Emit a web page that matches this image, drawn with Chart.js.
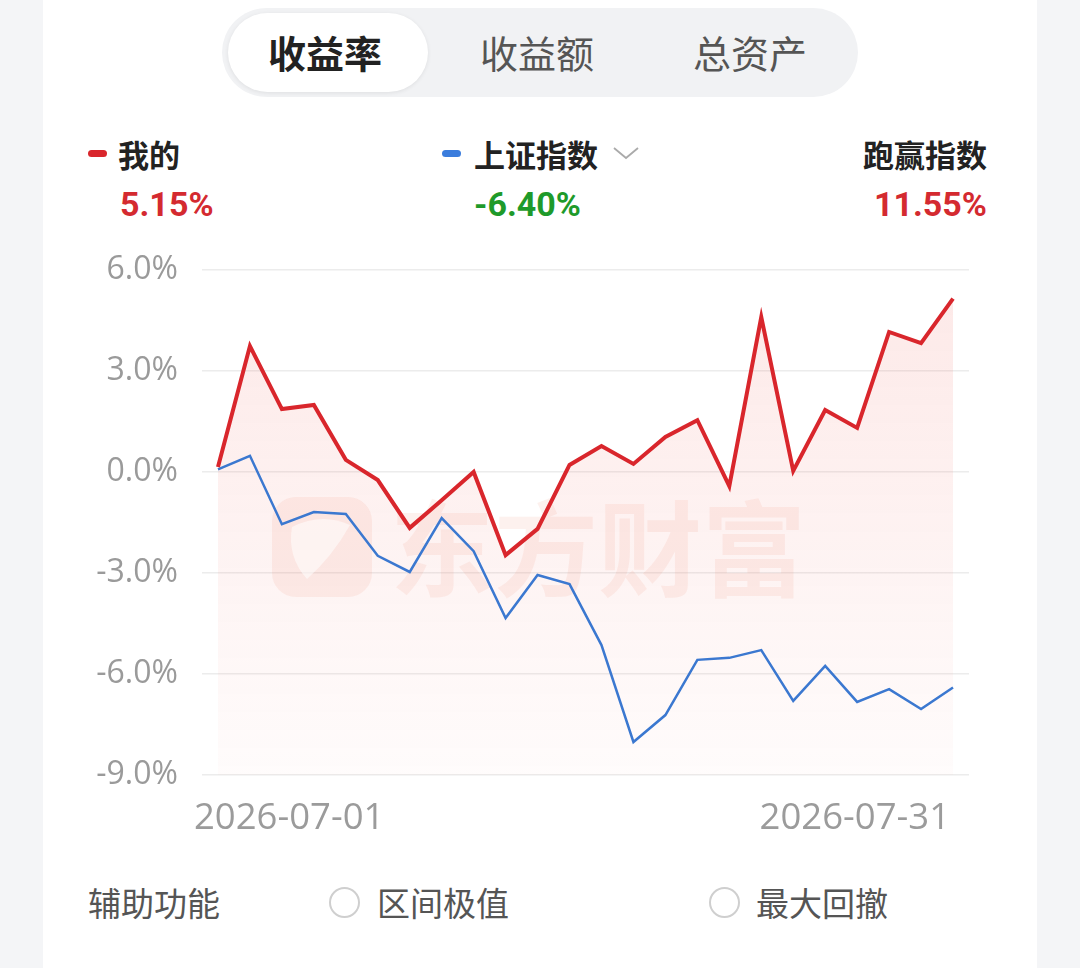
<!DOCTYPE html>
<html><head><meta charset="utf-8">
<script src="https://cdn.jsdelivr.net/npm/chart.js@4.4.1/dist/chart.umd.min.js"></script>
<style>
html,body{margin:0;padding:0;}
body{width:1080px;height:968px;background:#f4f5f7;position:relative;overflow:hidden;font-family:"Noto Sans CJK SC","Noto Sans",sans-serif;}
.card{position:absolute;left:43px;top:0;width:994px;height:968px;background:#fff;}
.abs{position:absolute;white-space:nowrap;transform:translateY(-50%);line-height:1;}
.pill{position:absolute;left:222px;top:8px;width:636px;height:89px;border-radius:45px;background:#f1f2f4;}
.active{position:absolute;left:228px;top:13px;width:200px;height:79px;border-radius:40px;background:#fff;box-shadow:0 1px 4px rgba(0,0,0,0.08);}
.tab{position:absolute;top:52px;transform:translate(-50%,-50%);font-size:38px;color:#555;line-height:1;white-space:nowrap;}
.dash{position:absolute;width:19px;height:7px;border-radius:4px;}
.num{font-family:Roboto,"Noto Sans",sans-serif;font-weight:700;font-size:34px;}
.radio{position:absolute;width:27px;height:27px;border:2px solid #cfcfcf;border-radius:50%;}
#wrap{position:absolute;left:0;top:240px;width:1080px;height:620px;}
</style></head>
<body>
<div class="card"></div>
<div class="pill"></div>
<div class="active"></div>
<div class="tab" style="left:325px;color:#222;font-weight:700;">收益率</div>
<div class="tab" style="left:537px;">收益额</div>
<div class="tab" style="left:750px;">总资产</div>

<div class="dash" style="left:88px;top:150px;background:#d9262c;"></div>
<div class="abs" style="left:118px;top:153px;font-size:31px;font-weight:700;color:#222;">我的</div>
<div class="abs num" style="left:120px;top:204px;color:#d42a30;">5.15%</div>

<div class="dash" style="left:442px;top:150px;background:#3b7ddd;"></div>
<div class="abs" style="left:474px;top:153px;font-size:31px;font-weight:700;color:#222;">上证指数</div>
<svg style="position:absolute;left:612px;top:145px;" width="30" height="16"><polyline points="2,3 14,13 26,3" fill="none" stroke="#aaa" stroke-width="1.8"/></svg>
<div class="abs num" style="left:474px;top:204px;color:#1e9a2a;">-6.40%</div>

<div class="abs" style="right:93px;top:153px;font-size:31px;font-weight:700;color:#222;">跑赢指数</div>
<div class="abs num" style="right:93px;top:204px;color:#d42a30;">11.55%</div>

<div id="wrap"><canvas id="c" width="1080" height="620"></canvas></div>

<div class="abs" style="left:88px;top:902px;font-size:33px;color:#555;">辅助功能</div>
<div class="radio" style="left:329px;top:887px;"></div>
<div class="abs" style="left:377px;top:902px;font-size:33px;color:#555;">区间极值</div>
<div class="radio" style="left:709px;top:887px;"></div>
<div class="abs" style="left:756px;top:902px;font-size:33px;color:#555;">最大回撤</div>

<script>
const dates = ['2026-07-01','2026-07-02','2026-07-03','2026-07-04','2026-07-06','2026-07-07','2026-07-08','2026-07-09','2026-07-10','2026-07-13','2026-07-14','2026-07-15','2026-07-16','2026-07-17','2026-07-20','2026-07-21','2026-07-22','2026-07-23','2026-07-24','2026-07-27','2026-07-28','2026-07-29','2026-07-30','2026-07-31'];
const mine = [0.15, 3.74, 1.87, 1.99, 0.36, -0.24, -1.66, -0.84, 0.0, -2.47, -1.69, 0.21, 0.77, 0.24, 1.04, 1.54, -0.42, 4.60, 0.03, 1.84, 1.31, 4.16, 3.83, 5.15];
const shIndex = [0.08, 0.48, -1.55, -1.19, -1.25, -2.49, -2.97, -1.37, -2.35, -4.34, -3.06, -3.33, -5.14, -8.02, -7.22, -5.58, -5.52, -5.29, -6.80, -5.76, -6.83, -6.45, -7.04, -6.40];
const yTicks = [-9, -6, -3, 0, 3, 6];
const watermark = '东方财富';

const decor = {
  id: 'decor',
  beforeDatasetsDraw(chart) {
    const {ctx, chartArea: a} = chart;
    ctx.save();
    ctx.fillStyle = 'rgba(238,120,90,0.10)';
    const lx = a.left + 70, ly = a.top + 227, s = 100, r = 24;
    ctx.beginPath();
    ctx.roundRect(lx, ly, s, s, r);
    ctx.fill();
    ctx.fillStyle = 'rgba(255,255,255,0.55)';
    ctx.beginPath();
    ctx.moveTo(lx + 20, ly + 30);
    ctx.quadraticCurveTo(lx + 50, ly + 15, lx + 78, ly + 28);
    ctx.quadraticCurveTo(lx + 60, ly + 60, lx + 35, ly + 82);
    ctx.quadraticCurveTo(lx + 15, ly + 60, lx + 20, ly + 30);
    ctx.fill();
    ctx.fillStyle = 'rgba(238,120,90,0.10)';
    ctx.font = '700 104px "Noto Sans CJK SC"';
    ctx.textBaseline = 'middle';
    ctx.textAlign = 'left';
    ctx.fillText(watermark, a.left + 188, ly + s / 2 + 2);
    ctx.restore();
  },
  afterDraw(chart) {
    const {ctx, chartArea: a} = chart;
    const xs = chart.scales.x;
    ctx.save();
    ctx.fillStyle = '#9b9b9b';
    ctx.font = '400 36.5px "Open Sans", Roboto, sans-serif';
    ctx.textBaseline = 'middle';
    const y = a.bottom + 44;
    ctx.textAlign = 'left';
    ctx.fillText(dates[0], xs.getPixelForValue(0) - 24, y);
    ctx.textAlign = 'right';
    ctx.fillText(dates[dates.length - 1], xs.getPixelForValue(dates.length - 1) - 3, y);
    ctx.restore();
  }
};

new Chart(document.getElementById('c'), {
  type: 'line',
  data: {
    labels: dates,
    datasets: [
      {
        label: '我的', data: mine, borderColor: '#d9262c', borderWidth: 4,
        pointRadius: 0, tension: 0, fill: 'start',
        backgroundColor: (c) => {
          const a = c.chart.chartArea;
          if (!a) return 'rgba(235,70,60,0.08)';
          const g = c.chart.ctx.createLinearGradient(0, a.top, 0, a.bottom);
          g.addColorStop(0, 'rgba(238,80,70,0.13)');
          g.addColorStop(1, 'rgba(238,80,70,0.02)');
          return g;
        }
      },
      {
        label: '上证指数', data: shIndex, borderColor: '#3b78d0', borderWidth: 2.5,
        pointRadius: 0, tension: 0, fill: false
      }
    ]
  },
  options: {
    responsive: false, animation: false, devicePixelRatio: 1,
    layout: {padding: {top: 30, right: 111, left: 0, bottom: 0}},
    plugins: {legend: {display: false}, tooltip: {enabled: false}, filler: {drawTime: 'beforeDatasetsDraw'}},
    scales: {
      x: {
        offset: true,
        grid: {display: false, drawTicks: false},
        border: {display: false},
        ticks: {display: false},
        afterFit(s) { s.height = 85; }
      },
      y: {
        min: -9, max: 6,
        afterBuildTicks(s) { s.ticks = yTicks.map(v => ({value: v})); },
        grid: {color: '#ececec', lineWidth: 1.5, drawTicks: false},
        border: {display: false},
        ticks: {
          padding: 24, color: '#9a9a9a',
          font: {family: '"Open Sans", Roboto, sans-serif', size: 32},
          callback: (v) => v.toFixed(1) + '%'
        },
        afterFit(s) { s.width = 202; s.paddingTop = 0; s.paddingBottom = 0; }
      }
    }
  },
  plugins: [decor]
});
</script>
</body></html>
